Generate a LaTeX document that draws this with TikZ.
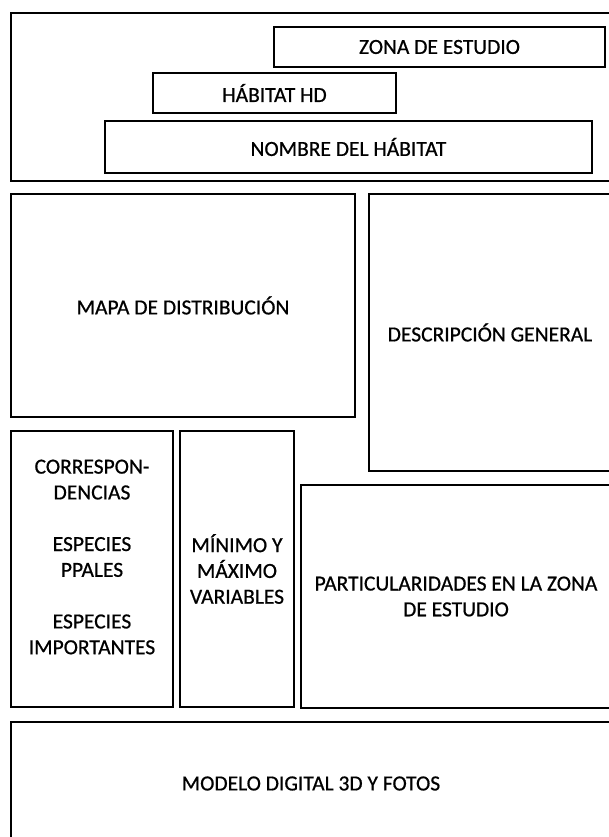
\documentclass[tikz,border=0pt]{standalone}
\usepackage{fontspec}
\setmainfont{Carlito}
\newfontfamily\labfont{Carlito}[FakeBold=0.7]
\begin{document}
\begin{tikzpicture}[x=1pt,y=-1pt,
  box/.style={draw=black, line width=2.6pt, rectangle, inner sep=0pt,
    font=\labfont\fontsize{21.5}{25.8}\selectfont, align=center},
  lbl/.style={font=\labfont\fontsize{21.5}{25.8}\selectfont, align=center, inner sep=0pt}]
\useasboundingbox[fill=white] (0,0) rectangle (609,837);
\node[box, minimum width=600pt, minimum height=168pt] (top) at (311,97) {};
\node[box, minimum width=331pt, minimum height=40pt] (zona) at (439.5,47) {ZONA DE ESTUDIO};
\node[box, minimum width=243pt, minimum height=40pt] (hab) at (274.5,93) {HÁBITAT HD};
\node[box, minimum width=487pt, minimum height=52pt] (nom) at (348.5,147) {NOMBRE DEL HÁBITAT};
\node[box, minimum width=344pt, minimum height=223pt] (mapa) at (183,305.5) {MAPA DE DISTRIBUCIÓN};
\node[box, minimum width=242pt, minimum height=277pt] (desc) at (490,332.5) {DESCRIPCIÓN GENERAL};
\node[box, minimum width=162pt, minimum height=276pt] (corr) at (92,569) {};
\node[lbl] (corrtxt) at (92,557) {CORRESPON-\\DENCIAS\\[25.8pt]ESPECIES\\PPALES\\[25.8pt]ESPECIES\\IMPORTANTES};
\node[box, minimum width=114pt, minimum height=276pt] (min) at (237,569) {MÍNIMO Y\\MÁXIMO\\VARIABLES};
\node[box, minimum width=310pt, minimum height=223pt] (part) at (456,596.5) {PARTICULARIDADES EN LA ZONA\\DE ESTUDIO};
\node[box, minimum width=600pt, minimum height=123pt] (modelo) at (311,783.5) {MODELO DIGITAL 3D Y FOTOS};
\end{tikzpicture}
\end{document}
